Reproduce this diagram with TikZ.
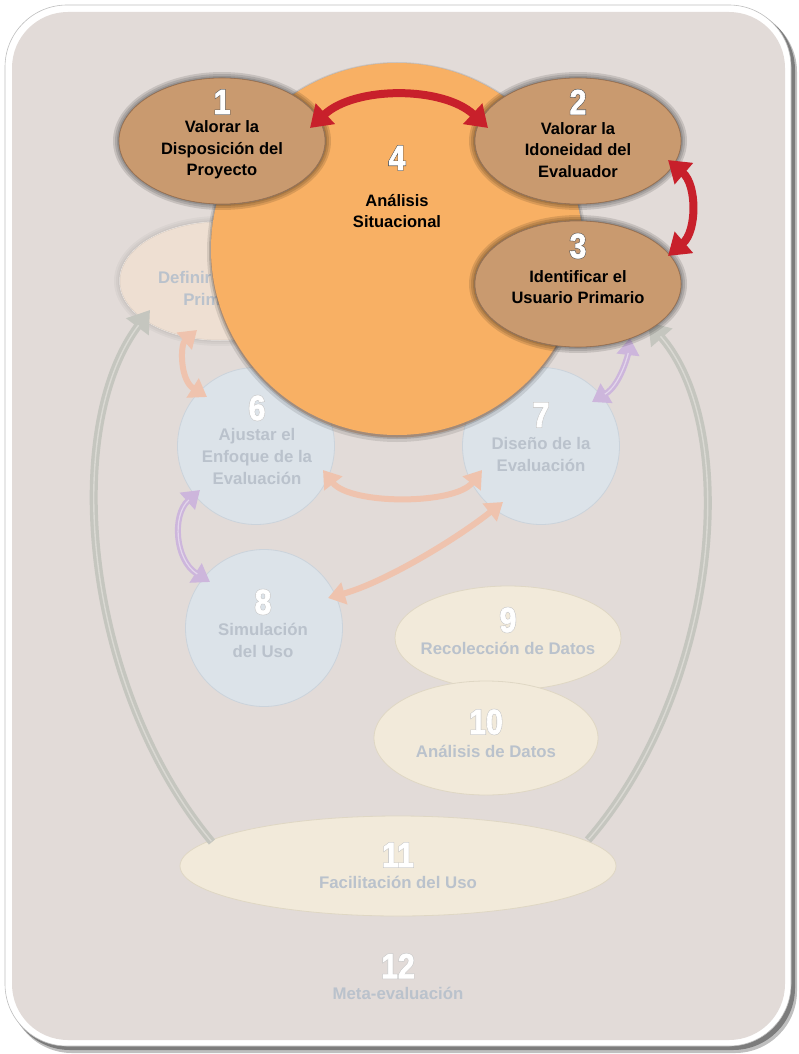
\documentclass[tikz,border=0pt]{standalone}
\usepackage{fontspec}
\setmainfont{Liberation Sans}
\newfontfamily\numfont[FakeStretch=0.86,FakeBold=1.8]{Liberation Sans}
\newfontfamily\numfontol[FakeStretch=0.86,FakeBold=5]{Liberation Sans}
\usetikzlibrary{shapes.geometric,arrows.meta,calc}
\definecolor{bgfill}{HTML}{E2DBD8}
\definecolor{orangefill}{HTML}{F8B064}
\definecolor{brownfill}{HTML}{C99A6F}
\definecolor{brownline}{HTML}{9A7050}
\definecolor{redarrow}{HTML}{C8202B}
\definecolor{peachfill}{HTML}{EEDFD2}
\definecolor{bluefill}{HTML}{DCE3E9}
\definecolor{blueline}{HTML}{CBD3DB}
\definecolor{creamfill}{HTML}{F2EADA}
\definecolor{creamline}{HTML}{DFD7C4}
\definecolor{fadedtext}{HTML}{BAC2CC}
\definecolor{grayarc}{HTML}{C5C6BF}
\definecolor{grayarclight}{HTML}{DAD9D3}
\definecolor{peacharrow}{HTML}{EFC3AE}
\definecolor{purplearrow}{HTML}{CDB6DC}
\definecolor{numdark}{HTML}{5A5A5A}
\definecolor{numlight}{HTML}{C9C9C9}
\newcommand\bignum[4]{%
  \node[numol, text=#3] at (#1) {#4};
  \node[numfg] (#2) at (#1) {#4};
}
\newcommand\halo[5]{%
  \fill[black, opacity=#5] (#1) ellipse [x radius=#2+6, y radius=#3+6];
  \fill[black, opacity=#5] (#1) ellipse [x radius=#2+4, y radius=#3+4];
  \fill[black, opacity=#5] (#1) ellipse [x radius=#2+2, y radius=#3+2];
  \fill[#4] (#1) ellipse [x radius=#2+0.5, y radius=#3+0.5];
}
\begin{document}
\begin{tikzpicture}[x=1pt,y=-1pt,
  numol/.style={inner sep=0pt, font={\numfontol\bfseries\fontsize{35}{35}\selectfont}},
  numfg/.style={inner sep=0pt, text=white, font={\numfont\bfseries\fontsize{35}{35}\selectfont}},
  darktext/.style={align=center, inner sep=0pt, text=black, font={\bfseries\fontsize{16.5}{21.5}\selectfont}},
  fadetext/.style={align=center, inner sep=0pt, text=fadedtext, font={\bfseries\fontsize{16.8}{22}\selectfont}},
  brownell/.style={ellipse, fill=brownfill, draw=brownline, line width=0.6pt, inner sep=0pt,
    minimum width=206pt, minimum height=126pt},
  bluecirc/.style={circle, fill=bluefill, draw=blueline, line width=0.8pt, inner sep=0pt, minimum size=157pt},
  creamell/.style={ellipse, fill=creamfill, draw=creamline, line width=0.8pt, inner sep=0pt},
  redarr/.style={draw=redarrow, line width=8pt, {Triangle[length=21pt,width=27pt]}-{Triangle[length=21pt,width=27pt]}},
  grayarr/.style={draw=grayarc, line width=8pt, -{Triangle[length=21pt,width=27pt]}},
  graystripe/.style={draw=grayarclight, line width=1.4pt, shorten >=19pt, shorten <=1pt},
  peacharr/.style={draw=peacharrow, line width=6pt, {Triangle[length=17pt,width=22pt]}-{Triangle[length=17pt,width=22pt]}},
  purplearr/.style={draw=purplearrow, line width=6pt, {Triangle[length=17pt,width=22pt]}-{Triangle[length=17pt,width=22pt]}},
  purplestripe/.style={draw=white, opacity=0.45, line width=1.2pt, shorten >=15pt, shorten <=15pt}
]
\useasboundingbox (0,0) rectangle (798,1054);
% frame
\fill[black, opacity=0.25, rounded corners=62pt] (10,10) rectangle (797,1053);
\fill[black, opacity=0.35, rounded corners=62pt] (8,8) rectangle (795,1050);
\filldraw[fill=white, draw=black!25, line width=0.6pt, rounded corners=62pt] (5,5) rectangle (791,1046);
\fill[bgfill, rounded corners=56pt] (12,12) rectangle (785,1040);

% faded shapes
\coordinate (h5) at (220,281);
\halo{h5}{100}{59}{white}{0.03}
\node[ellipse, fill=peachfill, draw=peachfill!92!black, line width=0.5pt, inner sep=0pt,
  minimum width=200pt, minimum height=118pt] (e5) at (h5) {};
\node[fadetext] (t5) at (222,288) {Definir los Usos\\Primarios};

\node[bluecirc] (c6) at (256,446) {};
\node[bluecirc] (c7) at (541,446) {};
\node[bluecirc] (c8) at (264,628) {};
\node[creamell, minimum width=226pt, minimum height=104pt] (e9) at (508,638) {};
\node[creamell, minimum width=224pt, minimum height=114pt] (e10) at (486,738) {};
\node[creamell, minimum width=436pt, minimum height=100pt] (e11) at (398,866) {};

\bignum{257,408}{n6}{numlight}{6}
\node[fadetext] (t6) at (257,456) {Ajustar el\\Enfoque de la\\Evaluación};
\bignum{541,415}{n7}{numlight}{7}
\node[fadetext] (t7) at (541,454) {Diseño de la\\Evaluación};
\bignum{263,602}{n8}{numlight}{8}
\node[fadetext] (t8) at (263,640) {Simulación\\del Uso};
\bignum{508,620}{n9}{numlight}{9}
\node[fadetext] (t9) at (508,648) {Recolección de Datos};
\bignum{486,722}{n10}{numlight}{10}
\node[fadetext] (t10) at (486,751) {Análisis de Datos};
\bignum{398,855}{n11}{numlight}{11}
\node[fadetext] (t11) at (398,882) {Facilitación del Uso};
\bignum{398,966}{n12}{numlight}{12}
\node[fadetext] (t12) at (398,993) {Meta-evaluación};

% gray feedback arcs
\draw[grayarr] ($(e11.center)+(-186,-24)$) .. controls (85,690) and (60,430) .. ($(e5.center)+(-70,29)$);
\draw[graystripe] ($(e11.center)+(-186,-24)$) .. controls (85,690) and (60,430) .. ($(e5.center)+(-70,29)$);
\coordinate (e3c) at (578,284);
\draw[grayarr] ($(e11.center)+(190,-26)$) .. controls (718,690) and (742,430) .. ($(e3c)+(70,38)$);
\draw[graystripe] ($(e11.center)+(190,-26)$) .. controls (718,690) and (742,430) .. ($(e3c)+(70,38)$);

% faded arrows
\draw[peacharr] ($(e5.center)+(-23,49)$) .. controls (180,345) and (180,380) .. ($(c6.center)+(-49,-49)$);
\draw[purplearr] ($(c6.center)+(-56,44)$) .. controls (172,515) and (175,560) .. ($(c8.center)+(-54,-46)$);
\draw[purplestripe] ($(c6.center)+(-56,44)$) .. controls (172,515) and (175,560) .. ($(c8.center)+(-54,-46)$);
\draw[purplearr] ($(e3c)+(52,54)$) .. controls (628,355) and (620,385) .. ($(c7.center)+(51,-44)$);
\draw[purplestripe] ($(e3c)+(52,54)$) .. controls (628,355) and (620,385) .. ($(c7.center)+(51,-44)$);
\draw[peacharr] ($(c6.center)+(67,24)$) .. controls (350,505) and (455,505) .. ($(c7.center)+(-59,24)$);
\draw[peacharr] ($(c7.center)+(-38,56)$) .. controls (455,540) and (385,582) .. ($(c8.center)+(64,-30)$);

% orange circle
\fill[black, opacity=0.10] (397,252) circle [radius=190];
\fill[black, opacity=0.15] (397,251) circle [radius=188];
\fill[brownline, opacity=0.5] (397,251) circle [radius=186.5];
\node[circle, fill=orangefill, inner sep=0pt, minimum size=372pt] (c4) at (397,249) {};
\bignum{397,158}{n4}{numdark}{4}
\node[darktext] (t4) at (397,211) {Análisis\\Situacional};

% brown ellipses
\coordinate (h1) at (222,141);
\coordinate (h2) at (578,141);
\halo{h1}{103}{63}{black!55}{0.12}
\halo{h2}{103}{63}{black!55}{0.12}
\halo{e3c}{103}{63}{black!55}{0.12}
\node[brownell] (e1) at (h1) {};
\node[brownell] (e2) at (h2) {};
\node[brownell] (e3) at (e3c) {};
\bignum{222,102}{n1}{numdark}{1}
\node[darktext] (t1) at (222,150) {Valorar la\\Disposición del\\Proyecto};
\bignum{578,102}{n2}{numdark}{2}
\node[darktext] (t2) at (578,150) {Valorar la\\Idoneidad del\\Evaluador};
\bignum{578,246}{n3}{numdark}{3}
\node[darktext] (t3) at (578,287) {Identificar el\\Usuario Primario};

% red arrows
\draw[redarr] ($(e1.center)+(88,-13)$) .. controls (355,86) and (443,86) .. ($(e2.center)+(-90,-13)$);
\draw[redarr] ($(e2.center)+(90,19)$) .. controls (697,185) and (697,231) .. ($(e3.center)+(90,-28)$);
\end{tikzpicture}
\end{document}
